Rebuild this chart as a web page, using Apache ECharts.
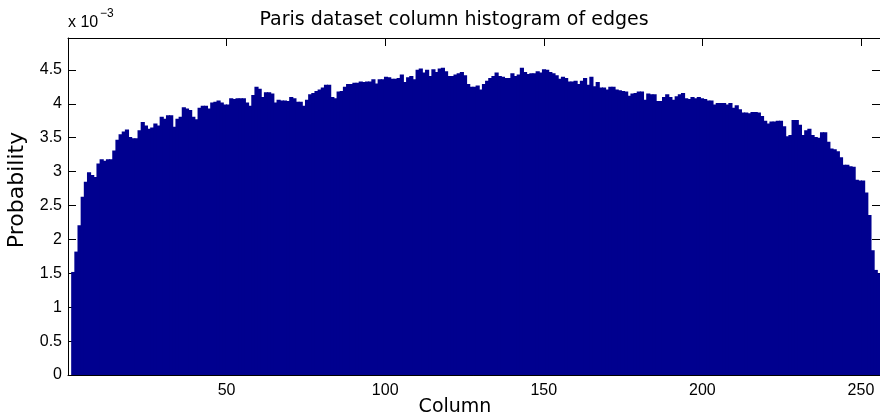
<!DOCTYPE html>
<html>
<head>
<meta charset="utf-8">
<script src="https://cdn.jsdelivr.net/npm/echarts@6/dist/echarts.min.js"></script>
<style>
  html, body { margin: 0; padding: 0; background: #ffffff; }
  #chart { width: 880px; height: 419px; }
</style>
</head>
<body>
<div id="chart"></div>
<script>
// Histogram of edge pixels per image column (Paris dataset).
// Probabilities are stored in units of 1e-3 (the axis carries the "x 10^-3" factor).
const probability = [
  1.52, 1.82, 2.21, 2.63, 2.85, 2.99, 2.95, 2.92, 3.12, 3.18,
  3.16, 3.18, 3.18, 3.31, 3.47, 3.55, 3.59, 3.62, 3.51, 3.49,
  3.49, 3.61, 3.73, 3.68, 3.63, 3.65, 3.71, 3.68, 3.81, 3.78,
  3.83, 3.83, 3.66, 3.78, 3.81, 3.95, 3.93, 3.91, 3.81, 3.77,
  3.94, 3.97, 3.97, 3.93, 4.02, 4.03, 4.05, 4.02, 3.99, 3.99,
  4.08, 4.07, 4.08, 4.08, 4.08, 4.02, 3.97, 4.13, 4.25, 4.22,
  4.10, 4.17, 4.17, 4.15, 4.02, 4.06, 4.05, 4.05, 4.04, 4.10,
  4.08, 4.03, 4.03, 3.97, 4.06, 4.14, 4.16, 4.19, 4.21, 4.24,
  4.28, 4.28, 4.10, 4.08, 4.18, 4.19, 4.25, 4.29, 4.29, 4.31,
  4.31, 4.33, 4.32, 4.33, 4.33, 4.36, 4.30, 4.36, 4.36, 4.40,
  4.39, 4.37, 4.37, 4.38, 4.43, 4.32, 4.39, 4.41, 4.36, 4.50,
  4.52, 4.46, 4.50, 4.41, 4.51, 4.47, 4.52, 4.53, 4.48, 4.41,
  4.41, 4.43, 4.45, 4.47, 4.42, 4.29, 4.25, 4.25, 4.27, 4.21,
  4.29, 4.34, 4.38, 4.41, 4.46, 4.41, 4.40, 4.38, 4.38, 4.45,
  4.41, 4.43, 4.53, 4.47, 4.44, 4.45, 4.45, 4.48, 4.46, 4.51,
  4.50, 4.47, 4.45, 4.42, 4.37, 4.40, 4.38, 4.33, 4.33, 4.34,
  4.29, 4.34, 4.38, 4.28, 4.40, 4.26, 4.32, 4.24, 4.24, 4.21,
  4.25, 4.25, 4.21, 4.20, 4.19, 4.18, 4.12, 4.15, 4.16, 4.18,
  4.18, 4.06, 4.15, 4.14, 4.14, 4.04, 4.04, 4.10, 4.14, 4.10,
  4.06, 4.11, 4.14, 4.16, 4.08, 4.07, 4.10, 4.08, 4.10, 4.08,
  4.07, 4.05, 4.05, 3.99, 4.01, 4.01, 4.01, 3.99, 4.01, 3.94,
  3.98, 3.92, 3.87, 3.87, 3.86, 3.88, 3.88, 3.87, 3.82, 3.75,
  3.71, 3.74, 3.74, 3.75, 3.75, 3.67, 3.52, 3.54, 3.76, 3.76,
  3.69, 3.54, 3.61, 3.63, 3.54, 3.51, 3.50, 3.58, 3.58, 3.44,
  3.34, 3.33, 3.30, 3.21, 3.10, 3.10, 3.08, 3.07, 2.88, 2.87,
  2.87, 2.69, 2.36, 1.84, 1.55, 1.50
];

// Bins cover the column range [1, 256] evenly.
const binRange = [1, 256];
const xTicks = [50, 100, 150, 200, 250];
const yTickLabels = ['0', '0.5', '1', '1.5', '2', '2.5', '3', '3.5', '4', '4.5'];

const binWidth = (binRange[1] - binRange[0]) / probability.length;
const barData = probability.map((v, i) => [binRange[0] + i * binWidth, binRange[0] + (i + 1) * binWidth, v]);

const fill = '#00008f';
const tickFont = '"Liberation Sans", Arial, Helvetica, sans-serif';
const labelFont = '"DejaVu Sans", Verdana, sans-serif';

const chart = echarts.init(document.getElementById('chart'), null, { renderer: 'canvas' });

const baseX = {
  type: 'value', min: 0, max: 256, interval: 50,
  axisLine: { show: true, onZero: false, lineStyle: { color: '#000', width: 1 } },
  axisTick: { show: true, inside: true, length: 8, lineStyle: { color: '#000' } },
  splitLine: { show: false }
};
const baseY = {
  type: 'value', min: 0, max: 4.97, interval: 0.5,
  axisLine: { show: true, onZero: false, lineStyle: { color: '#000', width: 1 } },
  axisTick: { show: true, inside: true, length: 8, lineStyle: { color: '#000' } },
  splitLine: { show: false }
};

chart.setOption({
  animation: false,
  backgroundColor: '#ffffff',
  grid: { left: 68, right: 0, top: 38, bottom: 44, containLabel: false },
  xAxis: [
    Object.assign({}, baseX, {
      position: 'bottom',
      axisLabel: {
        show: true, margin: 8, color: '#000', fontSize: 16, fontFamily: tickFont,
        showMinLabel: false, showMaxLabel: false,
        formatter: v => (xTicks.indexOf(v) >= 0 ? String(v) : '')
      }
    }),
    Object.assign({}, baseX, { position: 'top', axisLabel: { show: false } })
  ],
  yAxis: [
    Object.assign({}, baseY, {
      position: 'left',
      axisLabel: {
        show: true, margin: 6, color: '#000', fontSize: 16, fontFamily: tickFont,
        showMaxLabel: false,
        formatter: v => {
          const k = Math.round(v / 0.5);
          return Math.abs(v - k * 0.5) < 1e-9 && k < yTickLabels.length ? yTickLabels[k] : '';
        }
      }
    }),
    Object.assign({}, baseY, { position: 'right', axisLabel: { show: false } })
  ],
  series: [{
    type: 'custom',
    xAxisIndex: 0,
    yAxisIndex: 0,
    data: barData,
    clip: true,
    renderItem: function (params, api) {
      const p0 = api.coord([api.value(0), api.value(2)]);
      const p1 = api.coord([api.value(1), 0]);
      // overlap neighbours by one pixel so no hairline seams appear between bins
      return {
        type: 'rect',
        shape: { x: p0[0], y: p0[1], width: p1[0] - p0[0] + 1, height: p1[1] - p0[1] },
        style: { fill: fill }
      };
    }
  }],
  graphic: [
    {
      type: 'text', x: 454, y: 11, z: 10,
      style: { text: 'Paris dataset column histogram of edges', fill: '#000',
               font: '19px ' + labelFont, textAlign: 'center' }
    },
    {
      type: 'text', x: 68, y: 15, z: 10,
      style: { text: 'x 10', fill: '#000', font: '16px ' + tickFont }
    },
    {
      type: 'text', x: 100, y: 8, z: 10,
      style: { text: '\u22123', fill: '#000', font: '12px ' + tickFont }
    },
    {
      type: 'text', x: 455, y: 398, z: 10,
      style: { text: 'Column', fill: '#000', font: '19px ' + labelFont, textAlign: 'center' }
    },
    {
      type: 'text', x: 6, y: 190, rotation: Math.PI / 2, z: 10,
      style: { text: 'Probability', fill: '#000', font: '22px ' + labelFont,
               textAlign: 'center', textVerticalAlign: 'top' }
    }
  ]
});
</script>
</body>
</html>
